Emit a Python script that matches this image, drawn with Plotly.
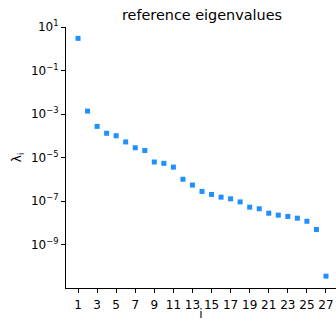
import plotly.graph_objects as go

idx = list(range(1, 28))
eigenvalues = [
    3.0, 1.36e-3, 2.7e-4, 1.3e-4, 1.0e-4, 5.2e-5, 2.8e-5, 2.1e-5,
    6.2e-6, 5.4e-6, 3.6e-6, 1.0e-6, 5.4e-7, 2.75e-7, 2.0e-7, 1.5e-7,
    1.26e-7, 9.1e-8, 5.2e-8, 4.4e-8, 2.75e-8, 2.24e-8, 1.95e-8, 1.62e-8,
    1.17e-8, 4.9e-9, 3.5e-11,
]
x_ticks = list(range(1, 28, 2))
y_tick_vals = [1e1, 1e-1, 1e-3, 1e-5, 1e-7, 1e-9]
y_tick_text = ["10<sup>1</sup>", "10<sup>−1</sup>", "10<sup>−3</sup>",
               "10<sup>−5</sup>", "10<sup>−7</sup>", "10<sup>−9</sup>"]

font = "DejaVu Sans"

fig = go.Figure(go.Scatter(
    x=idx, y=eigenvalues, mode="markers",
    marker=dict(symbol="square", size=5, color="#1E90FF", line=dict(width=0)),
))

fig.update_layout(
    width=336, height=321,
    margin=dict(l=66, r=0, t=27, b=33),
    paper_bgcolor="white", plot_bgcolor="white",
    showlegend=False,
    font=dict(family=font, size=12, color="black"),
    title=dict(text="reference eigenvalues", x=(66 + 338) / 2 / 336, xanchor="center",
               y=1 - 15 / 321, yanchor="middle", font=dict(size=14.4, family=font)),
)
fig.update_xaxes(
    range=[-0.26, 28.05], tickvals=x_ticks, ticks="outside", ticklen=4,
    tickcolor="black", showline=True, linecolor="black", linewidth=1,
    showgrid=False, zeroline=False, tickfont=dict(size=12),
    ticklabelstandoff=2,
    title=dict(text="i", font=dict(size=12), standoff=6), automargin=False,
)
fig.update_yaxes(
    type="log", range=[-11, 1], tickvals=y_tick_vals, ticktext=y_tick_text,
    ticks="outside", ticklen=4, tickcolor="black", showline=True,
    linecolor="black", linewidth=1, showgrid=False, zeroline=False,
    tickfont=dict(size=12), automargin=False,
    title=dict(text="λ<sub>i</sub>", font=dict(size=12), standoff=6),
)

fig.write_html("out.html", config={"displayModeBar": False},
               post_script="document.body.style.margin='0';")
